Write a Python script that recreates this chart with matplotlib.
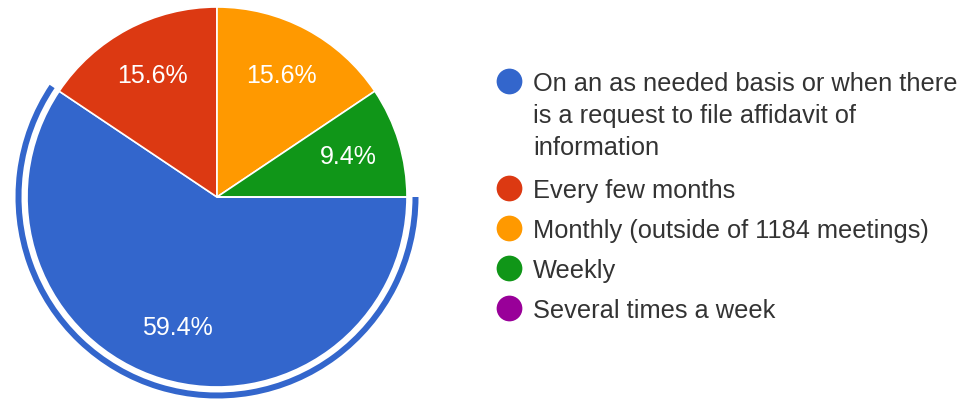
import matplotlib
matplotlib.use("Agg")
import matplotlib.pyplot as plt
from matplotlib.patches import Wedge

# Survey responses: how often information is shared
categories = [
    "On an as needed basis or when there\nis a request to file affidavit of\ninformation",
    "Every few months",
    "Monthly (outside of 1184 meetings)",
    "Weekly",
    "Several times a week",
]
shares = [59.4, 15.6, 15.6, 9.4, 0.0]
colors = ["#3366cc", "#dc3912", "#ff9900", "#109618", "#990099"]

W, H = 965, 399
fig = plt.figure(figsize=(W / 100, H / 100), dpi=100)
fig.patch.set_facecolor("white")
ax = fig.add_axes([0, 0, 1, 1])
ax.set_xlim(0, W)
ax.set_ylim(0, H)
ax.set_aspect("equal")
ax.axis("off")

font = ["Liberation Sans", "DejaVu Sans"]
cx, cy, r = 217, 202, 190

wedges, _, autotexts = ax.pie(
    shares,
    colors=colors,
    startangle=0,
    counterclock=False,
    center=(cx, cy),
    radius=r,
    autopct=lambda p: f"{p:.1f}%" if p > 0 else "",
    pctdistance=0.72,
    wedgeprops=dict(edgecolor="white", linewidth=1.2),
    textprops=dict(color="white", fontsize=18, family=font),
    frame=True,
)
ax.set_xlim(0, W)
ax.set_ylim(0, H)
ax.axis("off")

# Highlight ring around the largest (selected) slice
sel = 0
start = 360 - 360 * sum(shares[: sel + 1]) / sum(shares)
end = 360 - 360 * sum(shares[:sel]) / sum(shares)
ax.add_patch(Wedge((cx, cy), 201.5, start, end, width=6, facecolor=colors[sel],
                   edgecolor="none"))

# Legend: circle markers with (possibly wrapped) labels
lx_marker, lx_text = 509.5, 533
line_pitch, entry_pitch = 32, 40
baseline = 91
text_color = "#333333"
for label, col in zip(categories, colors):
    lines = label.split("\n")
    ax.scatter([lx_marker], [H - (baseline - 9.5)], s=25 ** 2 * 0.55, color=col,
               edgecolors="none", zorder=5)
    for i, ln in enumerate(lines):
        ax.text(lx_text, H - (baseline + i * line_pitch), ln, fontsize=18.3,
                family=font, color=text_color, va="baseline", ha="left")
    baseline += (len(lines) - 1) * line_pitch + (entry_pitch + 3 if len(lines) > 1 else entry_pitch)

fig.savefig("out.png", dpi=100, facecolor="white")
